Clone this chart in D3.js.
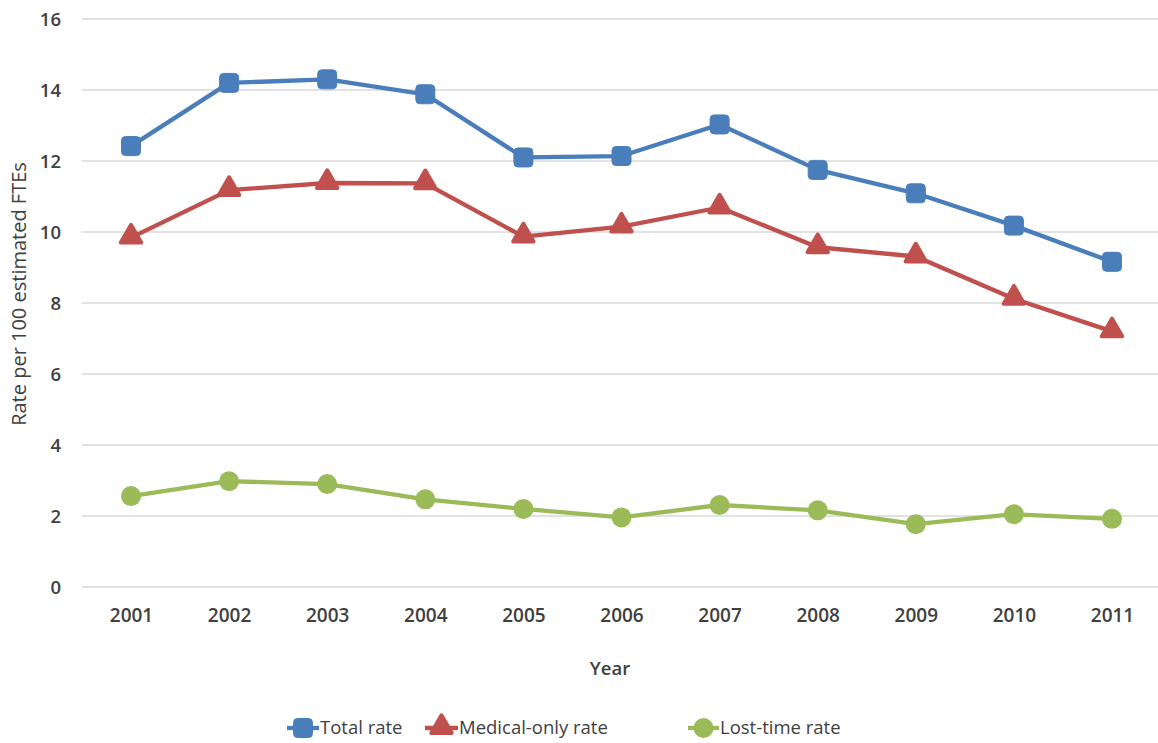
<!DOCTYPE html>
<html><head><meta charset="utf-8">
<script src="https://cdn.jsdelivr.net/npm/d3@7"></script>
<style>body{margin:0;background:#fff}svg{display:block}</style>
</head><body>
<svg id="c" width="1158" height="743"></svg>
<script>
const years = ["2001","2002","2003","2004","2005","2006","2007","2008","2009","2010","2011"];
const totalRate = [12.42,14.2,14.3,13.88,12.1,12.14,13.03,11.75,11.09,10.18,9.16];
const medicalRate = [9.84,11.18,11.38,11.37,9.87,10.15,10.69,9.57,9.31,8.12,7.2];
const lostRate = [2.56,2.98,2.9,2.47,2.2,1.96,2.31,2.16,1.77,2.05,1.92];
const yTicks = [0,2,4,6,8,10,12,14,16];
const seriesNames = ["Total rate","Medical-only rate","Lost-time rate"];
const colors = ["#4A7EBB","#C0504D","#9BBB59"];
const shapes = ["square","triangle","circle"];

const svg = d3.select("#c");
const font = "'Open Sans', 'Liberation Sans', sans-serif";
const textColor = "#404040";

const x = d3.scalePoint().domain(years).range([131,1112]);
const y = d3.scaleLinear().domain([0,16]).range([587,19]);

// gridlines
svg.append("g").selectAll("line").data(yTicks).join("line")
  .attr("x1",82).attr("x2",1158)
  .attr("y1",d=>y(d)).attr("y2",d=>y(d))
  .attr("stroke","#d9d9d9").attr("stroke-width",1.3);

// y axis labels
const yAxis = d3.axisLeft(y).tickValues(yTicks).tickSize(0).tickPadding(0);
const gy = svg.append("g").attr("transform","translate(61,0)").call(yAxis);
gy.select(".domain").remove();
gy.selectAll("text").attr("font-family",font).attr("font-size",18.5).attr("font-weight",600).attr("fill",textColor).attr("dy","0.35em");

// x axis labels
const xAxis = d3.axisBottom(x).tickSize(0).tickPadding(0);
const gx = svg.append("g").attr("transform","translate(0,608)").call(xAxis);
gx.select(".domain").remove();
gx.selectAll("text").attr("font-family",font).attr("font-size",19).attr("font-weight",600).attr("fill",textColor).attr("dy","0.75em");

// axis titles
svg.append("text").attr("x",610).attr("y",675).attr("text-anchor","middle")
  .attr("font-family",font).attr("font-size",18.5).attr("font-weight",600).attr("fill",textColor).text("Year");
svg.append("text").attr("transform","translate(26,294) rotate(-90)").attr("text-anchor","middle")
  .attr("font-family",font).attr("font-size",20).attr("fill",textColor).text("Rate per 100 estimated FTEs");

const data = [totalRate, medicalRate, lostRate];
const line = d3.line().x((d,i)=>x(years[i])).y(d=>y(d));

function marker(g, shape, color, cx, cy){
  if(shape==="square"){
    g.append("rect").attr("x",cx-9.5).attr("y",cy-9.5).attr("width",19).attr("height",19).attr("rx",4)
      .attr("fill",color).attr("stroke",color).attr("stroke-width",1);
  } else if(shape==="triangle"){
    g.append("path").attr("d",d3.symbol().type(d3.symbolTriangle).size(180)())
      .attr("transform",`translate(${cx},${cy-1})`)
      .attr("fill",color).attr("stroke",color).attr("stroke-width",4).attr("stroke-linejoin","round");
  } else {
    g.append("circle").attr("cx",cx).attr("cy",cy).attr("r",10).attr("fill",color);
  }
}

data.forEach((vals,si)=>{
  const g = svg.append("g");
  g.append("path").datum(vals).attr("d",line).attr("fill","none")
    .attr("stroke",colors[si]).attr("stroke-width",4.3).attr("stroke-linejoin","round");
  vals.forEach((v,i)=>marker(g, shapes[si], colors[si], x(years[i]), y(v)));
});

// legend
const legendItems = [{x:287,tx:320},{x:425,tx:459},{x:688,tx:720}];
legendItems.forEach((li,si)=>{
  const g = svg.append("g");
  g.append("line").attr("x1",li.x).attr("x2",li.tx-1).attr("y1",728).attr("y2",728)
    .attr("stroke",colors[si]).attr("stroke-width",4.3);
  marker(g, shapes[si], colors[si], (li.x+li.tx-1)/2, 728);
  g.append("text").attr("x",li.tx).attr("y",728).attr("dy","0.35em")
    .attr("font-family",font).attr("font-size",18.5).attr("fill",textColor).text(seriesNames[si]);
});
</script>
</body></html>
